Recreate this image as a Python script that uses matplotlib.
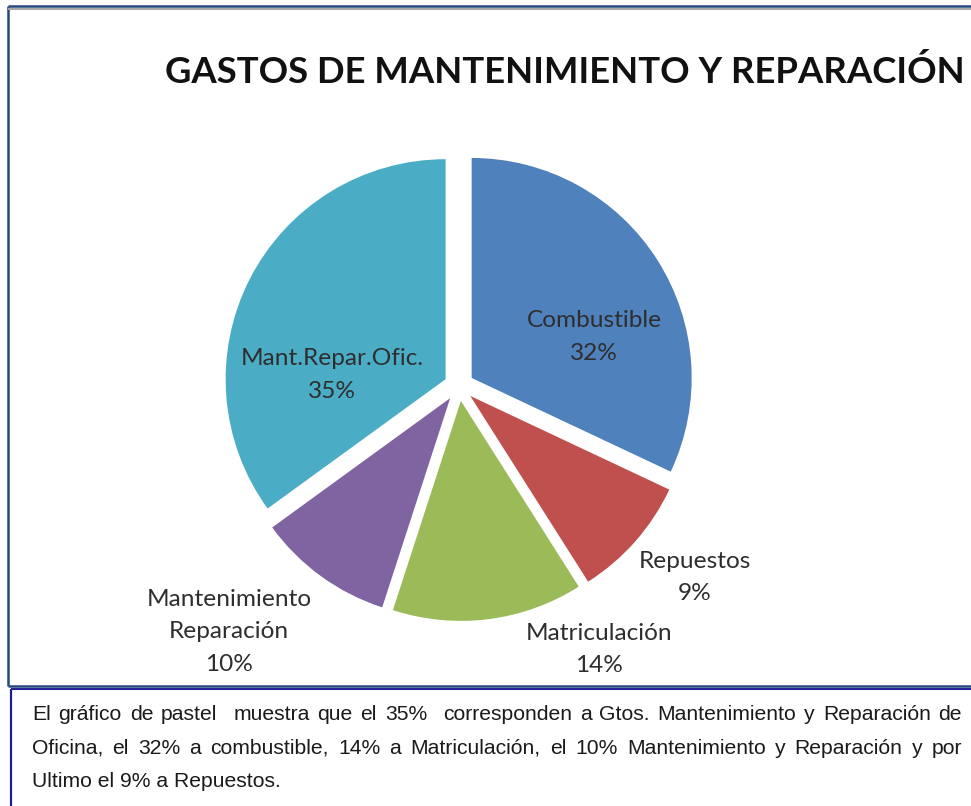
import matplotlib
matplotlib.use("Agg")
import matplotlib.pyplot as plt

# data
categories = ["Combustible", "Repuestos", "Matriculación",
              "Mantenimiento\nReparación", "Mant.Repar.Ofic."]
values = [32, 9, 14, 10, 35]
colors = ["#4F81BD", "#C0504D", "#9BBB59", "#8064A2", "#4BACC6"]

title = "GASTOS DE MANTENIMIENTO Y REPARACIÓN"
body = [
    "El gráfico de pastel  muestra que el 35%  corresponden a Gtos. Mantenimiento y Reparación de",
    "Oficina, el 32% a combustible, 14% a Matriculación, el 10% Mantenimiento y Reparación y por",
    "Ultimo el 9% a Repuestos.",
]

# layout (pixels, y measured from the top)
W, H = 971, 806
label_pos = [(594, 327), (695, 568), (599, 640), (229, 606), (332, 365)]
line_step = 32.5


def py(y):
    return H - y


fig = plt.figure(figsize=(W / 100, H / 100), dpi=100)
ax = fig.add_axes([0, 0, 1, 1])

ax.pie(values, colors=colors, startangle=90, counterclock=False,
       center=(459, py(386)), radius=220, explode=[15] * len(values),
       wedgeprops=dict(linewidth=0))
ax.set_xlim(0, W)
ax.set_ylim(0, H)
ax.set_aspect("auto")
ax.axis("off")

# slice labels
for cat, v, (lx, ly) in zip(categories, values, label_pos):
    lines = cat.split("\n") + [f"{v}%"]
    for k, s in enumerate(lines):
        ax.text(lx, py(ly + k * line_step), s, ha="center", va="baseline",
                fontsize=17.6, family="Lato", color="#2E2E2E")

ax.text(565, py(83), title, ha="center", va="baseline", fontsize=26.3,
        family="Lato", weight="bold", color="#111111")

# chart frame
blue = "#25497F"
navy = "#1E1E96"
ax.plot([7.5, 7.5], [py(5.5), py(686)], color=blue, lw=1.8, solid_capstyle="butt")
ax.plot([7.5, W], [py(5.5), py(5.5)], color=blue, lw=1.8, solid_capstyle="butt")
ax.plot([9, W], [py(8.5), py(8.5)], color="#A6A6A6", lw=1.4)
ax.plot([7.5, W], [py(686), py(686)], color=blue, lw=1.8, solid_capstyle="butt")
# text box frame
ax.plot([10.5, W], [py(689), py(689)], color=navy, lw=1.4, solid_capstyle="butt")
ax.plot([10.8, 10.8], [py(689), 0], color=navy, lw=1.6, solid_capstyle="butt")

# justified paragraph
renderer = fig.canvas.get_renderer()
x0, x1 = 32, 962
bases = [720, 753.5, 787]
for i, line in enumerate(body):
    if i < len(body) - 1:
        words = line.split(" ")
        texts = [ax.text(0, py(bases[i]), w, ha="left", va="baseline", fontsize=15.2,
                         family="Liberation Sans", color="#1A1A1A") for w in words]
        widths = [t.get_window_extent(renderer).width if w else 0 for t, w in zip(texts, words)]
        gap = (x1 - x0 - sum(widths)) / (len(words) - 1)
        x = x0
        for t, wd in zip(texts, widths):
            t.set_x(x)
            x += wd + gap
    else:
        ax.text(x0, py(bases[i]), line, ha="left", va="baseline", fontsize=15.2,
                family="Liberation Sans", color="#1A1A1A")

fig.savefig("out.png", dpi=100)
